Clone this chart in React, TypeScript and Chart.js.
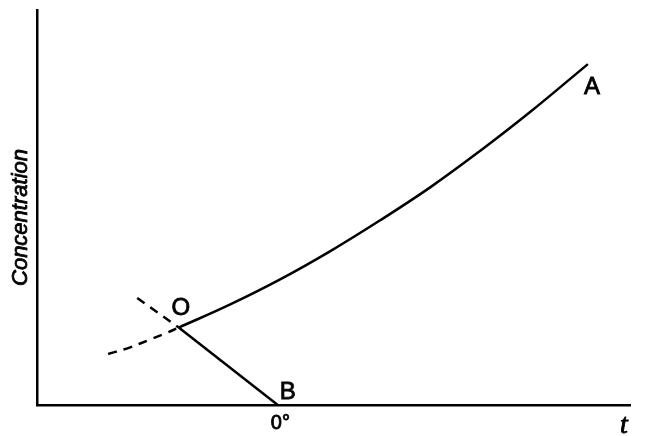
import React, { useEffect, useRef } from "react";
import { Chart, registerables } from "chart.js";

Chart.register(...registerables);

// Curve O -> A (solubility curve)
const oaX = [23.9, 32.5, 41.0, 49.4, 57.8, 66.3, 74.7, 83.1, 92.9];
const oaY = [19.6, 25.4, 31.8, 38.9, 46.7, 55.1, 64.3, 74.1, 86.3];
// Line O -> B (freezing curve)
const obX = [23.9, 40.6];
const obY = [19.6, 0];
// Dashed continuation of OA below O
const oaExtX = [12.0, 15.7, 19.1, 21.9, 23.9];
const oaExtY = [12.9, 14.6, 16.6, 18.3, 19.6];
// Dashed continuation of BO beyond O
const obExtX = [16.9, 23.9];
const obExtY = [27.1, 19.6];

const labelO = "O";
const labelA = "A";
const labelB = "B";
const labelZero = "0°";
const xTitle = "t";
const yTitle = "Concentration";

const toPts = (xs: number[], ys: number[]) => xs.map((x, i) => ({ x, y: ys[i] }));

export default function App() {
  const ref = useRef<HTMLCanvasElement | null>(null);
  useEffect(() => {
    if (!ref.current) return;
    const labelsPlugin = {
      id: "labels",
      afterDraw(chart: any) {
        const ctx = chart.ctx;
        const xs = chart.scales.x;
        const ys = chart.scales.y;
        const px = (v: number) => xs.getPixelForValue(v);
        const py = (v: number) => ys.getPixelForValue(v);
        const txt = (s: string, x: number, y: number) => {
          ctx.fillText(s, x, y);
          ctx.strokeText(s, x, y);
        };
        ctx.save();
        ctx.fillStyle = "#000";
        ctx.strokeStyle = "#000";
        ctx.lineWidth = 0.8;
        ctx.textAlign = "center";
        ctx.textBaseline = "middle";
        ctx.font = "24px 'Liberation Sans', Arial, sans-serif";
        txt(labelO, px(oaX[0]) + 2, py(oaY[0]) - 19);
        txt(labelA, px(oaX[oaX.length - 1]) + 4, py(oaY[oaY.length - 1]) + 23);
        txt(labelB, px(obX[1]) + 10, py(obY[1]) - 13);
        ctx.font = "20px 'Liberation Sans', Arial, sans-serif";
        ctx.textAlign = "left";
        ctx.textBaseline = "alphabetic";
        txt(labelZero, px(obX[1]) - 7, py(0) + 24);
        ctx.font = "italic 28px 'Liberation Serif', serif";
        ctx.textAlign = "center";
        txt(xTitle, xs.right - 6, py(0) + 28);
        ctx.translate(21, (ys.top + ys.bottom) / 2 + 10);
        ctx.rotate(-Math.PI / 2);
        ctx.font = "italic 22px 'Liberation Sans', Arial, sans-serif";
        ctx.textBaseline = "middle";
        txt(yTitle, 0, 0);
        ctx.restore();
      },
    };
    const common = {
      borderColor: "#000",
      borderWidth: 2.5,
      pointRadius: 0,
      fill: false,
    };
    const chart = new Chart(ref.current, {
      type: "line",
      data: {
        datasets: [
          { ...common, data: toPts(oaX, oaY), tension: 0.4 },
          { ...common, data: toPts(obX, obY) },
          { ...common, data: toPts(oaExtX, oaExtY), borderDash: [9, 7], tension: 0.4 },
          { ...common, data: toPts(obExtX, obExtY), borderDash: [9, 7] },
        ] as any,
      },
      options: {
        animation: false,
        responsive: true,
        maintainAspectRatio: false,
        layout: { padding: { left: 37, top: 10, right: 28, bottom: 31 } },
        plugins: { legend: { display: false }, tooltip: { enabled: false } },
        scales: {
          x: {
            type: "linear",
            min: 0,
            max: 100,
            ticks: { display: false },
            grid: { display: true, drawOnChartArea: false, drawTicks: false, color: "transparent" },
            border: { display: true, color: "#000", width: 2.5 },
            afterFit: (s: any) => { s.height = 0; },
          },
          y: {
            type: "linear",
            min: 0,
            max: 100,
            ticks: { display: false },
            grid: { display: true, drawOnChartArea: false, drawTicks: false, color: "transparent" },
            border: { display: true, color: "#000", width: 2.5 },
            afterFit: (s: any) => { s.width = 0; },
          },
        },
      } as any,
      plugins: [labelsPlugin],
    });
    return () => chart.destroy();
  }, []);
  return (
    <div style={{ position: "fixed", left: 0, top: 0, width: 658, height: 436, background: "#fff" }}>
      <canvas ref={ref} />
    </div>
  );
}
